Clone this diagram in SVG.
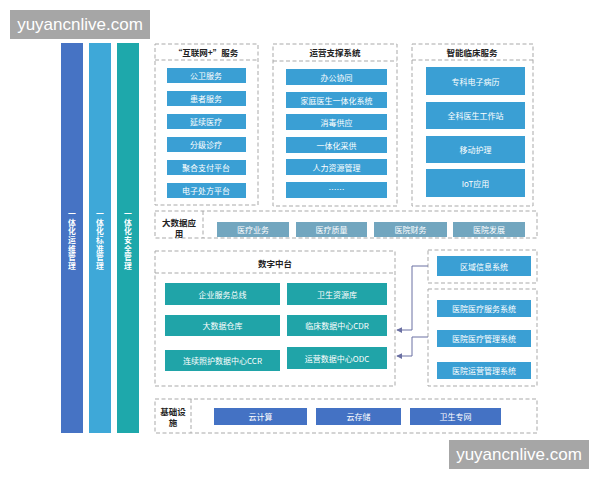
<svg xmlns="http://www.w3.org/2000/svg" width="600" height="480" viewBox="0 0 600 480">
<style>
.dash{fill:none;stroke:#a9a9a9;stroke-width:1;stroke-dasharray:4 2.5}
.t{font-family:"Noto Sans CJK SC","Noto Sans",sans-serif;font-size:8px;fill:#fff;text-anchor:middle;dominant-baseline:central}
.h{font-family:"Noto Sans CJK SC","Noto Sans",sans-serif;font-size:8.5px;fill:#222;font-weight:bold;text-anchor:middle;dominant-baseline:central}
.v{font-family:"Noto Sans CJK SC","Noto Sans",sans-serif;font-size:7.8px;fill:#fff;font-weight:bold;writing-mode:vertical-rl;text-orientation:upright;letter-spacing:0.9px}
.blue{fill:#3a9fd4}
.teal{fill:#20a4a8}
.gb{fill:#72a6bf}
.db{fill:#4472c4}
.wm{fill:#a6a6a6}
.wmt{font-family:"Liberation Sans","DejaVu Sans",sans-serif;font-size:17px;fill:#fff;text-anchor:middle;dominant-baseline:central}
.conn{fill:none;stroke:#6b70a3;stroke-width:1}
</style>
<defs>
<marker id="ah" viewBox="0 0 8 8" refX="7" refY="4" markerWidth="6" markerHeight="6" orient="auto">
<path d="M0,0 L8,4 L0,8 z" fill="#6b70a3"/>
</marker>
</defs>
<rect width="600" height="480" fill="#fff"/>

<g id="col-ops">
<rect x="61" y="43" width="22" height="390" fill="#4673c4"/>
<text class="v" x="72" y="210">一体化运维管理</text>
</g>
<g id="col-std">
<rect x="89" y="43" width="22" height="390" fill="#3ea8d8"/>
<text class="v" x="100" y="210">一体化标准管理</text>
</g>
<g id="col-sec">
<rect x="117" y="43" width="22" height="390" fill="#1ea8ab"/>
<text class="v" x="128" y="210">一体化安全管理</text>
</g>

<g id="internet-plus">
<rect class="dash" x="155" y="44" width="103" height="161"/>
<line class="dash" x1="155" y1="60" x2="258" y2="60"/>
<text class="h" x="206" y="52">“互联网+”服务</text>
<rect class="blue" x="167" y="68" width="79" height="15"/><text class="t" x="206" y="75.5">公卫服务</text>
<rect class="blue" x="167" y="91" width="79" height="15"/><text class="t" x="206" y="98.5">患者服务</text>
<rect class="blue" x="167" y="114" width="79" height="15"/><text class="t" x="206" y="121.5">延续医疗</text>
<rect class="blue" x="167" y="137" width="79" height="15"/><text class="t" x="206" y="144.5">分级诊疗</text>
<rect class="blue" x="167" y="160" width="79" height="15"/><text class="t" x="206" y="167.5">聚合支付平台</text>
<rect class="blue" x="167" y="183" width="79" height="15"/><text class="t" x="206" y="190.5">电子处方平台</text>
</g>

<g id="ops-support">
<rect class="dash" x="273" y="44" width="124" height="162"/>
<line class="dash" x1="273" y1="61" x2="397" y2="61"/>
<text class="h" x="335" y="52">运营支撑系统</text>
<rect class="blue" x="286" y="69" width="101" height="16"/><text class="t" x="336.5" y="77">办公协同</text>
<rect class="blue" x="286" y="92" width="101" height="16"/><text class="t" x="336.5" y="100">家庭医生一体化系统</text>
<rect class="blue" x="286" y="114" width="101" height="16"/><text class="t" x="336.5" y="122">消毒供应</text>
<rect class="blue" x="286" y="137" width="101" height="16"/><text class="t" x="336.5" y="145">一体化采供</text>
<rect class="blue" x="286" y="159" width="101" height="16"/><text class="t" x="336.5" y="167">人力资源管理</text>
<rect class="blue" x="286" y="182" width="101" height="16"/><text class="t" x="336.5" y="189">……</text>
</g>

<g id="smart-clinic">
<rect class="dash" x="412" y="44" width="121" height="162"/>
<line class="dash" x1="412" y1="60" x2="533" y2="60"/>
<text class="h" x="472" y="52">智能临床服务</text>
<rect class="blue" x="426" y="67" width="99" height="28"/><text class="t" x="475.5" y="81">专科电子病历</text>
<rect class="blue" x="426" y="102" width="99" height="27"/><text class="t" x="475.5" y="115.5">全科医生工作站</text>
<rect class="blue" x="426" y="136" width="99" height="27"/><text class="t" x="475.5" y="149.5">移动护理</text>
<rect class="blue" x="426" y="169" width="99" height="28"/><text class="t" x="475.5" y="183">IoT应用</text>
</g>

<g id="bigdata">
<rect class="dash" x="155" y="211" width="382" height="27"/>
<line class="dash" x1="203" y1="211" x2="203" y2="238"/>
<text class="h"><tspan x="179" y="221.5">大数据应</tspan><tspan x="179" y="232.5">用</tspan></text>
<rect class="gb" x="217" y="222" width="72" height="15"/><text class="t" x="253" y="229.5">医疗业务</text>
<rect class="gb" x="296" y="222" width="71" height="15"/><text class="t" x="331.5" y="229.5">医疗质量</text>
<rect class="gb" x="374" y="222" width="73" height="15"/><text class="t" x="410.5" y="229.5">医院财务</text>
<rect class="gb" x="453" y="222" width="72" height="15"/><text class="t" x="489" y="229.5">医院发展</text>
</g>

<g id="digital-platform">
<rect class="dash" x="155" y="251" width="240" height="135"/>
<line class="dash" x1="155" y1="273" x2="395" y2="273"/>
<text class="h" x="275" y="263">数字中台</text>
<rect class="teal" x="165" y="283" width="115" height="22"/><text class="t" x="222.5" y="294">企业服务总线</text>
<rect class="teal" x="287" y="283" width="100" height="22"/><text class="t" x="337" y="294">卫生资源库</text>
<rect class="teal" x="165" y="315" width="115" height="21"/><text class="t" x="222.5" y="325.5">大数据仓库</text>
<rect class="teal" x="287" y="315" width="100" height="21"/><text class="t" x="337" y="325.5">临床数据中心CDR</text>
<rect class="teal" x="165" y="350" width="115" height="21"/><text class="t" x="222.5" y="360.5">连续照护数据中心CCR</text>
<rect class="teal" x="287" y="347" width="100" height="22"/><text class="t" x="337" y="358">运营数据中心ODC</text>
</g>

<g id="regional">
<rect class="dash" x="428" y="250" width="109" height="33"/>
<rect class="blue" x="437" y="256" width="94" height="20"/><text class="t" x="484" y="266">区域信息系统</text>
</g>

<g id="hospital">
<rect class="dash" x="428" y="289" width="109" height="97"/>
<rect class="blue" x="437" y="300" width="94" height="17"/><text class="t" x="484" y="308.5">医院医疗服务系统</text>
<rect class="blue" x="437" y="330" width="94" height="17"/><text class="t" x="484" y="338.5">医院医疗管理系统</text>
<rect class="blue" x="437" y="362" width="94" height="17"/><text class="t" x="484" y="370.5">医院运营管理系统</text>
</g>

<g id="infra">
<rect class="dash" x="155" y="399" width="382" height="34"/>
<line class="dash" x1="191" y1="399" x2="191" y2="433"/>
<text class="h"><tspan x="173" y="410.5">基础设</tspan><tspan x="173" y="422">施</tspan></text>
<rect class="db" x="214" y="408" width="93" height="17"/><text class="t" x="260.5" y="416.5">云计算</text>
<rect class="db" x="316" y="408" width="85" height="17"/><text class="t" x="358.5" y="416.5">云存储</text>
<rect class="db" x="410" y="408" width="91" height="17"/><text class="t" x="455.5" y="416.5">卫生专网</text>
</g>

<g id="connectors">
<path class="conn" d="M428,266 H412 V330 H397" marker-end="url(#ah)"/>
<path class="conn" d="M428,337 H412 V356 H397" marker-end="url(#ah)"/>
</g>

<g id="watermark-top">
<rect class="wm" x="10" y="10" width="140" height="29"/>
<text class="wmt" x="80" y="24.5">yuyancnlive.com</text>
</g>
<g id="watermark-bottom">
<rect class="wm" x="449" y="440" width="140" height="29"/>
<text class="wmt" x="519" y="454.5">yuyancnlive.com</text>
</g>
</svg>
